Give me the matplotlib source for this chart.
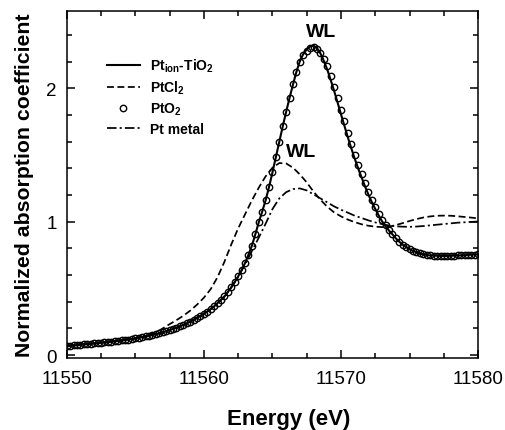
#!/usr/bin/env python3
"""Pt L3-edge XANES: Pt_ion-TiO2 compared with PtCl2, PtO2 and Pt metal."""

import numpy as np
import matplotlib
matplotlib.use("Agg")
import matplotlib.pyplot as plt
from matplotlib.ticker import MultipleLocator

plt.rcParams["font.family"] = ["Liberation Sans", "DejaVu Sans"]
plt.rcParams["mathtext.fontset"] = "custom"
plt.rcParams["mathtext.rm"] = "Liberation Sans"
plt.rcParams["mathtext.bf"] = "Liberation Sans:bold"

# energy sampling (eV)
energy_fine = np.arange(11550.0, 11580.001, 0.25)
energy_coarse = np.arange(11550.0, 11580.001, 0.5)

# PtO2 reference (open circles), 0.25 eV steps
pto2 = [
    0.068, 0.070, 0.073, 0.075, 0.078, 0.080, 0.083, 0.085,
    0.088, 0.090, 0.093, 0.095, 0.098, 0.101, 0.104, 0.107,
    0.110, 0.114, 0.117, 0.121, 0.125, 0.130, 0.135, 0.140,
    0.145, 0.151, 0.157, 0.163, 0.170, 0.178, 0.187, 0.196,
    0.205, 0.216, 0.226, 0.238, 0.250, 0.264, 0.279, 0.294,
    0.310, 0.327, 0.345, 0.366, 0.390, 0.414, 0.440, 0.473,
    0.510, 0.548, 0.590, 0.637, 0.690, 0.752, 0.820, 0.905,
    0.995, 1.075, 1.160, 1.260, 1.370, 1.485, 1.600, 1.715,
    1.825, 1.930, 2.030, 2.125, 2.200, 2.250, 2.280, 2.302,
    2.310, 2.295, 2.262, 2.220, 2.165, 2.090, 2.010, 1.925,
    1.840, 1.752, 1.665, 1.580, 1.500, 1.428, 1.358, 1.288,
    1.222, 1.163, 1.110, 1.058, 1.010, 0.972, 0.938, 0.905,
    0.875, 0.850, 0.828, 0.810, 0.795, 0.781, 0.770, 0.762,
    0.755, 0.751, 0.748, 0.746, 0.745, 0.744, 0.744, 0.744,
    0.745, 0.746, 0.747, 0.748, 0.750, 0.751, 0.753, 0.754,
    0.755,
]

# Pt_ion-TiO2 sample (solid line), 0.25 eV steps
pt_ion = [
    0.068, 0.070, 0.073, 0.075, 0.078, 0.080, 0.083, 0.085,
    0.088, 0.090, 0.093, 0.095, 0.098, 0.101, 0.104, 0.107,
    0.110, 0.114, 0.117, 0.121, 0.125, 0.130, 0.135, 0.140,
    0.145, 0.151, 0.157, 0.163, 0.170, 0.178, 0.187, 0.196,
    0.205, 0.216, 0.226, 0.238, 0.250, 0.264, 0.279, 0.294,
    0.310, 0.327, 0.345, 0.366, 0.390, 0.414, 0.440, 0.473,
    0.510, 0.548, 0.590, 0.637, 0.690, 0.752, 0.820, 0.905,
    0.995, 1.075, 1.160, 1.260, 1.370, 1.485, 1.600, 1.715,
    1.825, 1.930, 2.030, 2.125, 2.205, 2.258, 2.292, 2.315,
    2.320, 2.300, 2.262, 2.205, 2.140, 2.062, 1.980, 1.893,
    1.805, 1.718, 1.632, 1.550, 1.472, 1.400, 1.332, 1.265,
    1.202, 1.145, 1.095, 1.046, 1.002, 0.965, 0.933, 0.905,
    0.875, 0.850, 0.828, 0.810, 0.795, 0.781, 0.770, 0.762,
    0.755, 0.751, 0.748, 0.746, 0.745, 0.744, 0.744, 0.744,
    0.745, 0.746, 0.747, 0.748, 0.750, 0.751, 0.753, 0.754,
    0.755,
]

# PtCl2 reference (dashed), 0.5 eV steps
ptcl2 = [
    0.068, 0.073, 0.078, 0.083, 0.088, 0.093, 0.098, 0.104,
    0.110, 0.117, 0.125, 0.135, 0.150, 0.170, 0.200, 0.232,
    0.262, 0.295, 0.333, 0.378, 0.430, 0.495, 0.585, 0.700,
    0.830, 0.950, 1.055, 1.160, 1.255, 1.340, 1.405, 1.440,
    1.437, 1.405, 1.355, 1.295, 1.225, 1.165, 1.112, 1.070,
    1.040, 1.016, 0.997, 0.981, 0.970, 0.963, 0.960, 0.964,
    0.975, 0.990, 1.006, 1.020, 1.032, 1.040, 1.045, 1.046,
    1.045, 1.041, 1.036, 1.031, 1.025,
]

# Pt metal reference (dash-dot), 0.5 eV steps
pt_metal = [
    0.068, 0.073, 0.078, 0.083, 0.088, 0.093, 0.098, 0.104,
    0.110, 0.117, 0.125, 0.135, 0.145, 0.157, 0.170, 0.187,
    0.205, 0.226, 0.250, 0.279, 0.310, 0.345, 0.390, 0.440,
    0.505, 0.585, 0.680, 0.780, 0.880, 0.985, 1.095, 1.175,
    1.222, 1.245, 1.250, 1.235, 1.205, 1.175, 1.145, 1.115,
    1.090, 1.068, 1.045, 1.028, 1.010, 0.995, 0.982, 0.972,
    0.966, 0.963, 0.962, 0.964, 0.968, 0.973, 0.978, 0.983,
    0.988, 0.993, 0.996, 0.999, 1.002,
]


fig = plt.figure(figsize=(5.05, 4.31), dpi=100)
ax = fig.add_axes([0.132, 0.166, 0.815, 0.807])

ax.plot(energy_fine, pt_ion, color="black", lw=1.5,
        label=r"Pt$_{\mathbf{ion}}$-TiO$_{\mathbf{2}}$", zorder=3)
ax.plot(energy_coarse, ptcl2, color="black", lw=1.25,
        linestyle=(0, (4.0, 2.0)), label=r"PtCl$_{\mathbf{2}}$", zorder=2)
ax.plot(energy_fine, pto2, linestyle="none", marker="o", ms=4.6,
        mfc="none", mec="black", mew=1.0, label=r"PtO$_{\mathbf{2}}$", zorder=4)
ax.plot(energy_coarse, pt_metal, color="black", lw=1.25,
        linestyle=(0, (5.5, 1.8, 1.2, 1.8)), label="Pt metal", zorder=2)

ax.text(11568.55, 2.43, "WL", fontsize=14, fontweight="bold",
        ha="center", va="center")
ax.text(11567.1, 1.53, "WL", fontsize=14, fontweight="bold",
        ha="center", va="center")

ax.set_xlim(11550, 11580)
ax.set_ylim(-0.025, 2.583)
ax.xaxis.set_major_locator(MultipleLocator(10))
ax.xaxis.set_minor_locator(MultipleLocator(2.5))
ax.yaxis.set_major_locator(MultipleLocator(1))
ax.yaxis.set_minor_locator(MultipleLocator(0.2))
ax.tick_params(which="both", direction="in", top=True, right=True,
               labelsize=13.5, width=1.1)
ax.tick_params(which="major", length=6)
ax.tick_params(which="minor", length=3.5)
ax.tick_params(axis="x", pad=8)
ax.tick_params(axis="y", pad=7)
for sp in ax.spines.values():
    sp.set_linewidth(1.1)

ax.set_xlabel("Energy (eV)", fontsize=16, fontweight="bold", va="center")
ax.set_ylabel("Normalized absorption coefficient", fontsize=15.3,
              fontweight="bold", va="center")
ax.xaxis.set_label_coords(0.539, -0.172)
ax.yaxis.set_label_coords(-0.1015, 0.5)

ax.legend(loc="upper left", bbox_to_anchor=(0.097, 0.867), frameon=False,
          prop={"weight": "bold", "size": 10}, handlelength=2.4,
          handletextpad=0.7, labelspacing=0.33, borderpad=0, borderaxespad=0,
          numpoints=1)

fig.savefig("out.png", dpi=100)
